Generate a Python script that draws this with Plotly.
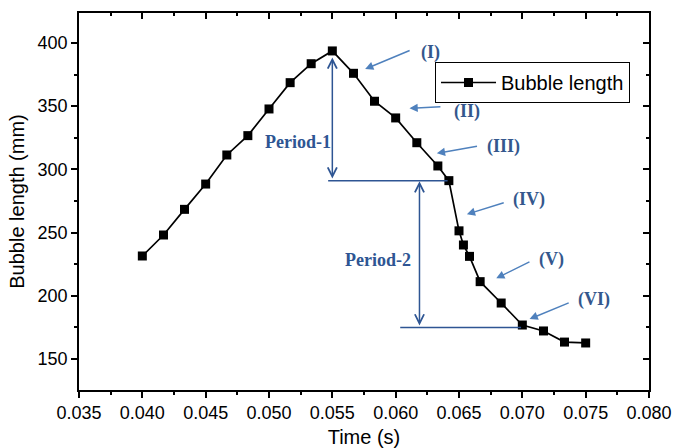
import plotly.graph_objects as go

# Data
time_s = [0.0400, 0.04167, 0.04333, 0.04500, 0.04667, 0.04833, 0.05000, 0.05167,
          0.05333, 0.05500, 0.05667, 0.05833, 0.06000, 0.06167, 0.06333, 0.06420,
          0.06500, 0.06535, 0.06583, 0.06667, 0.06833, 0.07000, 0.07167, 0.07333,
          0.07500]
bubble_len = [231.5, 248.1, 268.4, 288.4, 311.4, 326.7, 347.8, 368.6,
              383.6, 393.7, 376.0, 353.9, 340.7, 321.1, 302.7, 291.1,
              251.4, 240.2, 231.2, 211.2, 194.3, 176.9, 172.2, 163.4,
              162.7]
series_name = "Bubble length"
x_ticks = [0.035, 0.040, 0.045, 0.050, 0.055, 0.060, 0.065, 0.070, 0.075, 0.080]
y_ticks = [150, 200, 250, 300, 350, 400]
roman_labels = ["(I)", "(II)", "(III)", "(IV)", "(V)", "(VI)"]
period_labels = ["Period-1", "Period-2"]

X_RANGE = [0.035, 0.080]
Y_RANGE = [125.5, 423.7]

DARK_BLUE = "#2E5593"
LIGHT_BLUE = "#4F81BD"
TXT_BLUE = "#34578D"
SERIF = "Liberation Serif, Times New Roman, serif"
SANS = "Arial, Liberation Sans, sans-serif"

fig = go.Figure()
fig.add_trace(go.Scatter(
    x=time_s, y=bubble_len, mode="lines+markers", name=series_name,
    line=dict(color="black", width=1.7),
    marker=dict(symbol="square", size=9, color="black"),
))

# invisible trace so overlay axes get drawn
fig.add_trace(go.Scatter(x=[None], y=[None], xaxis="x2", yaxis="y2",
                         showlegend=False, hoverinfo="skip"))

# Period guide lines
fig.add_shape(type="line", xref="x", yref="y", x0=0.05467, x1=0.06410, y0=291.1, y1=291.1,
              line=dict(color=DARK_BLUE, width=1.5))
fig.add_shape(type="line", xref="x", yref="y", x0=0.06036, x1=0.06990, y0=174.9, y1=174.9,
              line=dict(color=DARK_BLUE, width=1.5))

annotations = []
# double-headed period arrows
for xx, ytop, ybot in [(0.05500, 388.5, 291.6), (0.06188, 290.6, 175.4)]:
    annotations.append(dict(
        x=xx, y=ytop, ax=xx, ay=ybot, xref="x", yref="y", axref="x", ayref="y",
        text="", showarrow=True, arrowhead=5, startarrowhead=5, arrowside="end+start",
        arrowsize=1.2, startarrowsize=1.2, arrowwidth=1.5, arrowcolor=DARK_BLUE,
        standoff=0, startstandoff=0))
# period labels
for (xx, yy), t in zip([(0.0523, 321.9), (0.05860, 228.3)], period_labels):
    annotations.append(dict(x=xx, y=yy, xref="x", yref="y", text="<b>%s</b>" % t,
                            showarrow=False, font=dict(family=SERIF, size=18, color=DARK_BLUE)))

label_pos = [(0.06278, 392.3), (0.06562, 345.6), (0.06851, 318.0),
             (0.07049, 275.8), (0.07234, 228.9), (0.07562, 197.2)]
arrow_tail = [(0.06122, 394.5), (0.06365, 349.6), (0.06654, 318.5),
              (0.06865, 274.0), (0.07068, 227.5), (0.07378, 194.9)]
arrow_tip = [(0.05759, 379.4), (0.06109, 348.3), (0.06325, 312.7),
             (0.06562, 264.5), (0.06794, 213.8), (0.07057, 181.6)]
for t, (lx, ly), (tx, ty), (hx, hy) in zip(roman_labels, label_pos, arrow_tail, arrow_tip):
    annotations.append(dict(x=lx, y=ly, xref="x", yref="y", text="<b>%s</b>" % t,
                            showarrow=False, font=dict(family=SERIF, size=18, color=TXT_BLUE)))
    annotations.append(dict(x=hx, y=hy, ax=tx, ay=ty, xref="x", yref="y", axref="x", ayref="y",
                            text="", showarrow=True, arrowhead=2, arrowsize=1.1,
                            arrowwidth=1.5, arrowcolor=LIGHT_BLUE, standoff=0))

axis_common = dict(showgrid=False, zeroline=False, showline=True, linecolor="black",
                   linewidth=1.5, automargin=False)

fig.update_layout(
    width=673, height=448,
    margin=dict(l=79, r=24, t=13, b=58, autoexpand=False),
    paper_bgcolor="white", plot_bgcolor="white",
    font=dict(family=SANS, color="black"),
    annotations=annotations,
    xaxis=dict(**axis_common, range=X_RANGE, tickvals=x_ticks,
               ticktext=["%.3f" % v for v in x_ticks],
               ticks="outside", ticklen=6, tickwidth=1.5, tickcolor="black",
               minor=dict(ticks="outside", ticklen=3, dtick=0.0025, tick0=0.035,
                          tickwidth=1.5, tickcolor="black"),
               tickfont=dict(size=18, family=SANS),
               title=dict(text="Time (s)", font=dict(size=20, family=SANS), standoff=12)),
    yaxis=dict(**axis_common, range=Y_RANGE, tickvals=y_ticks,
               ticks="outside", ticklen=6, tickwidth=1.5, tickcolor="black",
               minor=dict(ticks="outside", ticklen=3, dtick=25, tick0=150,
                          tickwidth=1.5, tickcolor="black"),
               tickfont=dict(size=18, family=SANS),
               title=dict(text="Bubble length (mm)", font=dict(size=20, family=SANS), standoff=8)),
    xaxis2=dict(**axis_common, overlaying="x", side="top", range=X_RANGE, tickvals=x_ticks,
                ticks="inside", ticklen=6, tickwidth=1.5, tickcolor="black",
                minor=dict(ticks="inside", ticklen=3, dtick=0.0025, tick0=0.035,
                           tickwidth=1.5, tickcolor="black"),
                showticklabels=False),
    yaxis2=dict(**axis_common, overlaying="y", side="right", range=Y_RANGE, tickvals=y_ticks,
                ticks="inside", ticklen=6, tickwidth=1.5, tickcolor="black",
                minor=dict(ticks="inside", ticklen=3, dtick=25, tick0=150,
                           tickwidth=1.5, tickcolor="black"),
                showticklabels=False),
    legend=dict(x=0.6246, y=0.870, xanchor="left", yanchor="top",
                bgcolor="white", bordercolor="black", borderwidth=1,
                font=dict(size=20, family=SANS), itemwidth=55,
                tracegroupgap=0),
    showlegend=True,
)

fig.write_html("out.html")
